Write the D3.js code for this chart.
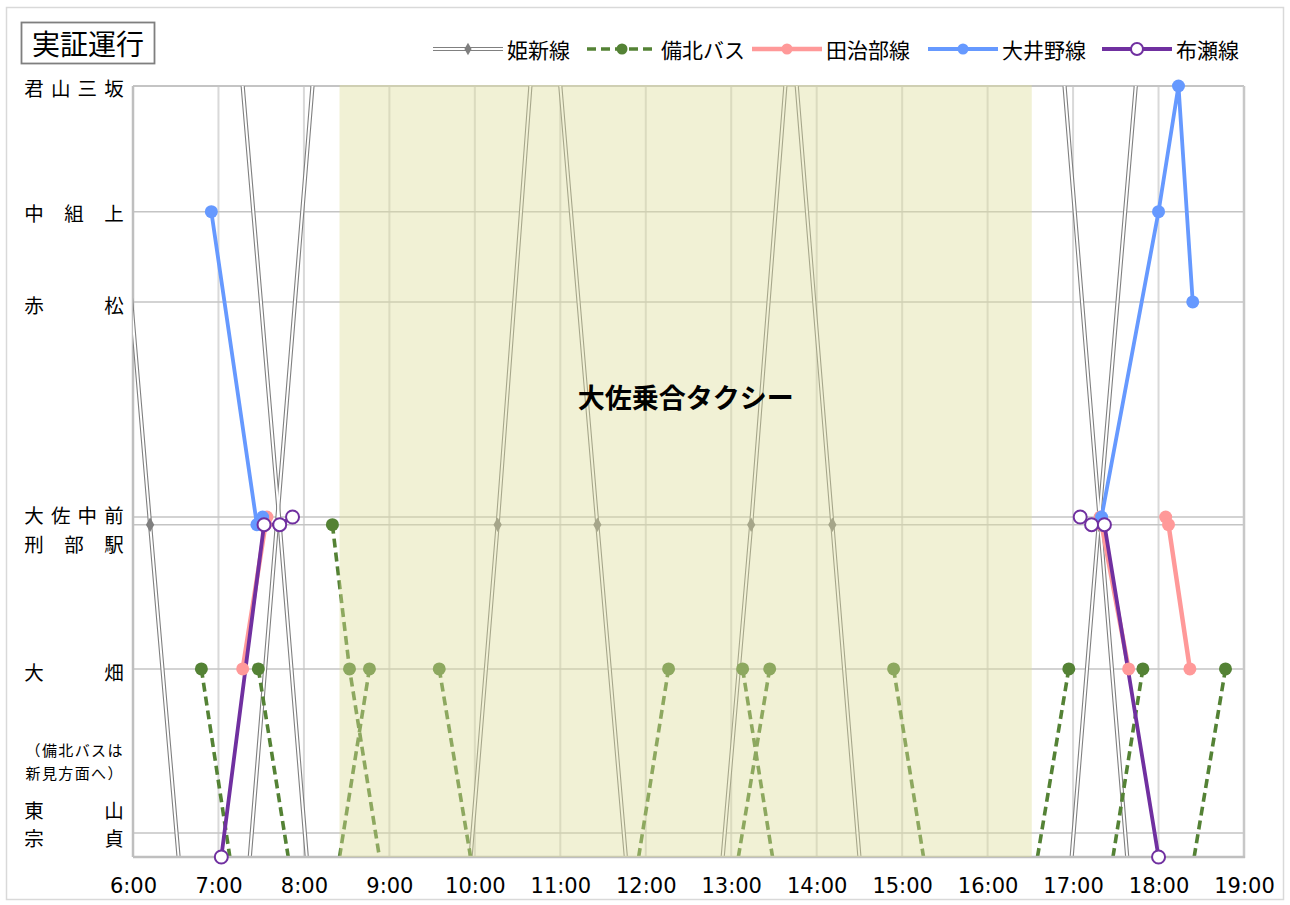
<!DOCTYPE html>
<html>
<head>
<meta charset="utf-8">
<script src="https://cdn.jsdelivr.net/npm/d3@7"></script>
<style>
  body { margin: 0; background: #fff; }
  text { font-family: "Noto Sans CJK JP", "Noto Sans", sans-serif; }
</style>
</head>
<body>
<div id="chart"></div>
<script>
// stations on the y axis (position along the route, arbitrary units)
const stations = ['上端', '君山三坂', '中組上', '赤松', '大佐中前', '刑部駅', '大畑', '東山宗貞', '布瀬', '新見方面', '下端']
const stationPos = [100, 100, 83.7, 72, 44.1, 43.1, 24.4, 3.1, 0, 0, 0]
const gridStations = ['君山三坂', '中組上', '赤松', '大佐中前', '刑部駅', '大畑', '東山宗貞']

// y axis label rows
const yLabelText = ['君山三坂', '中組上', '赤松', '大佐中前', '刑部駅', '大畑', '（備北バスは', '新見方面へ）', '東山', '宗貞']
const yLabelPos = [99.8, 83.6, 71.6, 44.4, 40.6, 24.0, 14.0, 11.0, 6.2, 2.5]
const yLabelSmall = [false, false, false, false, false, false, true, true, false, false]

const xTicks = ['6:00', '7:00', '8:00', '9:00', '10:00', '11:00', '12:00', '13:00', '14:00', '15:00', '16:00', '17:00', '18:00', '19:00']

const taxiPeriod = ['8:25', '16:31']
const taxiLabel = '大佐乗合タクシー'
const title = '実証運行'

// 姫新線 (train crossings of the chart, through 刑部駅)
const himeshin = [
  [['5:46', '上端'], ['6:12', '刑部駅'], ['6:32', '下端']],
  [['7:17', '上端'], ['7:43', '刑部駅'], ['8:02', '下端']],
  [['7:22', '下端'], ['7:41', '刑部駅'], ['8:06', '上端']],
  [['9:57', '下端'], ['10:16', '刑部駅'], ['10:39', '上端']],
  [['11:00', '上端'], ['11:26', '刑部駅'], ['11:46', '下端']],
  [['12:54', '下端'], ['13:14', '刑部駅'], ['13:38', '上端']],
  [['13:46', '上端'], ['14:11', '刑部駅'], ['14:30', '下端']],
  [['16:54', '上端'], ['17:19', '刑部駅'], ['17:38', '下端']],
  [['16:59', '下端'], ['17:18', '刑部駅'], ['17:44', '上端']]
]

// 備北バス
const bihoku = [
  [['6:48', '大畑'], ['7:08', '新見方面']],
  [['7:28', '大畑'], ['7:49', '新見方面']],
  [['8:20', '刑部駅'], ['8:32', '大畑'], ['8:53', '新見方面']],
  [['8:25', '新見方面'], ['8:46', '大畑']],
  [['9:35', '大畑'], ['9:57', '新見方面']],
  [['11:55', '新見方面'], ['12:16', '大畑']],
  [['13:08', '大畑'], ['13:29', '新見方面']],
  [['13:05', '新見方面'], ['13:27', '大畑']],
  [['14:54', '大畑'], ['15:15', '新見方面']],
  [['16:35', '新見方面'], ['16:57', '大畑']],
  [['17:28', '新見方面'], ['17:49', '大畑']],
  [['18:25', '新見方面'], ['18:47', '大畑']]
]

// 田治部線
const tajibu = [
  [['7:17', '大畑'], ['7:33', '刑部駅'], ['7:34', '大佐中前']],
  [['17:19', '大佐中前'], ['17:20', '刑部駅'], ['17:39', '大畑']],
  [['18:05', '大佐中前'], ['18:07', '刑部駅'], ['18:22', '大畑']]
]

// 大井野線
const oino = [
  [['6:55', '中組上'], ['7:27', '刑部駅'], ['7:31', '大佐中前']],
  [['17:20', '大佐中前'], ['18:00', '中組上'], ['18:14', '君山三坂'], ['18:24', '赤松']]
]

// 布瀬線
const fuse = [
  [['7:02', '布瀬'], ['7:32', '刑部駅'], ['7:43', '刑部駅'], ['7:52', '大佐中前']],
  [['17:05', '大佐中前'], ['17:13', '刑部駅'], ['17:22', '刑部駅'], ['18:00', '布瀬']]
]

const width = 1290,
  height = 905,
  plotL = 133, plotR = 1244, plotT = 86, plotB = 857

const parse = d3.timeParse('%H:%M')
const pos = name => stationPos[stations.indexOf(name)]

const x = d3.scaleTime()
  .domain([parse(xTicks[0]), parse(xTicks[xTicks.length - 1])])
  .range([plotL, plotR])
const y = d3.scaleLinear()
  .domain([0, 100])
  .range([plotB, plotT])

const line = d3.line()
  .x(d => x(parse(d[0])))
  .y(d => y(pos(d[1])))

let svg = d3.select('#chart')
  .append('svg')
  .attr('width', width)
  .attr('height', height)

// outer frame
svg.append('rect')
  .attr('x', 6.5).attr('y', 7.5)
  .attr('width', 1277).attr('height', 892)
  .attr('fill', '#fff').attr('stroke', '#d9d9d9').attr('stroke-width', 1.5)

svg.append('clipPath').attr('id', 'plot')
  .append('rect')
  .attr('x', plotL).attr('y', plotT)
  .attr('width', plotR - plotL).attr('height', plotB - plotT + 3)

// grid
svg.append('g').selectAll('line')
  .data(xTicks.slice(1, -1))
  .enter().append('line')
  .attr('x1', d => x(parse(d))).attr('x2', d => x(parse(d)))
  .attr('y1', plotT).attr('y2', plotB)
  .attr('stroke', '#d9d9d9').attr('stroke-width', 2)

svg.append('g').selectAll('line')
  .data(gridStations)
  .enter().append('line')
  .attr('x1', plotL).attr('x2', plotR)
  .attr('y1', d => y(pos(d))).attr('y2', d => y(pos(d)))
  .attr('stroke', '#c4c4c4').attr('stroke-width', d => d === '君山三坂' ? 2 : 1.5)

// plot edges
svg.append('line')
  .attr('x1', plotL).attr('x2', plotL).attr('y1', plotT).attr('y2', plotB)
  .attr('stroke', '#bfbfbf').attr('stroke-width', 2.5)
svg.append('line')
  .attr('x1', plotR).attr('x2', plotR).attr('y1', plotT).attr('y2', plotB + 1)
  .attr('stroke', '#c8c8c8').attr('stroke-width', 2.5)

let plot = svg.append('g').attr('clip-path', 'url(#plot)')

// 姫新線: double line
plot.selectAll('.hs-out')
  .data(himeshin)
  .enter().append('path')
  .attr('d', line)
  .attr('fill', 'none').attr('stroke', '#808080').attr('stroke-width', 4.2)
plot.selectAll('.hs-in')
  .data(himeshin)
  .enter().append('path')
  .attr('d', line)
  .attr('fill', 'none').attr('stroke', '#fff').attr('stroke-width', 2)

svg.append('g').selectAll('path')
  .data(himeshin.map(r => r.find(p => p[1] === '刑部駅')))
  .enter().append('path')
  .attr('transform', d => `translate(${x(parse(d[0]))},${y(pos(d[1]))})`)
  .attr('d', d3.symbol(d3.symbolDiamond, 60))
  .attr('fill', '#7f7f7f')

// bottom axis line
svg.append('line')
  .attr('x1', plotL).attr('x2', plotR + 1).attr('y1', plotB).attr('y2', plotB)
  .attr('stroke', '#bfbfbf').attr('stroke-width', 2.5)

// 備北バス
plot.selectAll('.bh')
  .data(bihoku)
  .enter().append('path')
  .attr('d', line)
  .attr('fill', 'none').attr('stroke', '#548235').attr('stroke-width', 3.6)
  .attr('stroke-dasharray', '9,5')
svg.append('g').selectAll('circle')
  .data(bihoku.flat().filter(p => p[1] !== '新見方面'))
  .enter().append('circle')
  .attr('cx', d => x(parse(d[0]))).attr('cy', d => y(pos(d[1])))
  .attr('r', 6.5).attr('fill', '#548235')

// 田治部線
plot.selectAll('.tj')
  .data(tajibu)
  .enter().append('path')
  .attr('d', line)
  .attr('fill', 'none').attr('stroke', '#ff9999').attr('stroke-width', 4.5)
svg.append('g').selectAll('circle')
  .data(tajibu.flat())
  .enter().append('circle')
  .attr('cx', d => x(parse(d[0]))).attr('cy', d => y(pos(d[1])))
  .attr('r', 6.5).attr('fill', '#ff9999')

// 大井野線
plot.selectAll('.on')
  .data(oino)
  .enter().append('path')
  .attr('d', line)
  .attr('fill', 'none').attr('stroke', '#6699ff').attr('stroke-width', 3.8)
svg.append('g').selectAll('circle')
  .data(oino.flat())
  .enter().append('circle')
  .attr('cx', d => x(parse(d[0]))).attr('cy', d => y(pos(d[1])))
  .attr('r', 6.5).attr('fill', '#6699ff')

// 布瀬線
plot.selectAll('.fs')
  .data(fuse)
  .enter().append('path')
  .attr('d', line)
  .attr('fill', 'none').attr('stroke', '#7030a0').attr('stroke-width', 3.8)
svg.append('g').selectAll('circle')
  .data(fuse.flat())
  .enter().append('circle')
  .attr('cx', d => x(parse(d[0]))).attr('cy', d => y(pos(d[1])))
  .attr('r', 6.5).attr('fill', '#fff').attr('stroke', '#7030a0').attr('stroke-width', 2)

// taxi period shading (on top, translucent)
svg.append('rect')
  .attr('x', x(parse(taxiPeriod[0])))
  .attr('width', x(parse(taxiPeriod[1])) - x(parse(taxiPeriod[0])))
  .attr('y', plotT - 1).attr('height', plotB - plotT + 1)
  .attr('fill', 'rgb(222,222,155)').attr('fill-opacity', 0.42)

svg.append('text')
  .attr('x', (x(parse(taxiPeriod[0])) + x(parse(taxiPeriod[1]))) / 2)
  .attr('y', y(59.7))
  .attr('text-anchor', 'middle').attr('dominant-baseline', 'central')
  .attr('font-size', 27).attr('font-weight', 'bold')
  .text(taxiLabel)

// x axis labels
svg.append('g')
  .attr('transform', `translate(0,${plotB})`)
  .call(d3.axisBottom(x)
    .tickValues(xTicks.map(parse))
    .tickFormat(d3.timeFormat('%-H:%M'))
    .tickSize(0).tickPadding(21))
  .call(g => g.select('.domain').remove())
  .selectAll('text')
  .style('font-family', '"DejaVu Sans", Verdana, sans-serif')
  .style('font-size', '21px').attr('fill', '#000')

// y axis labels (characters spread across the label column)
let yl = svg.append('g')
yLabelText.forEach((t, i) => {
  let chars = Array.from(t)
  let small = yLabelSmall[i]
  let x0 = small ? 33 : 34, x1 = small ? 115 : 114
  yl.selectAll(null)
    .data(chars)
    .enter().append('text')
    .attr('x', (c, j) => chars.length > 1 ? x0 + j * (x1 - x0) / (chars.length - 1) : (x0 + x1) / 2)
    .attr('y', y(yLabelPos[i]))
    .attr('text-anchor', 'middle').attr('dominant-baseline', 'central')
    .attr('font-size', small ? 15 : 19.5)
    .text(c => c)
})

// title box
svg.append('rect')
  .attr('x', 21.5).attr('y', 22.5).attr('width', 133).attr('height', 41)
  .attr('fill', '#fff').attr('stroke', '#7f7f7f').attr('stroke-width', 1.8)
svg.append('text')
  .attr('x', 88).attr('y', 43)
  .attr('text-anchor', 'middle').attr('dominant-baseline', 'central')
  .attr('font-size', 28)
  .text(title)

// legend
const legendY = 49
let lg = svg.append('g')
function legendItem(x0, label, draw) {
  draw(x0, x0 + 70)
  lg.append('text')
    .attr('x', x0 + 74).attr('y', legendY)
    .attr('dominant-baseline', 'central')
    .attr('font-size', 21)
    .text(label)
}
legendItem(433, '姫新線', (a, b) => {
  lg.append('line').attr('x1', a).attr('x2', b).attr('y1', legendY).attr('y2', legendY)
    .attr('stroke', '#808080').attr('stroke-width', 4.2)
  lg.append('line').attr('x1', a).attr('x2', b).attr('y1', legendY).attr('y2', legendY)
    .attr('stroke', '#fff').attr('stroke-width', 2)
  lg.append('path').attr('transform', `translate(${(a + b) / 2},${legendY})`)
    .attr('d', d3.symbol(d3.symbolDiamond, 45)).attr('fill', '#7f7f7f')
})
legendItem(587, '備北バス', (a, b) => {
  lg.append('line').attr('x1', a).attr('x2', b).attr('y1', legendY).attr('y2', legendY)
    .attr('stroke', '#548235').attr('stroke-width', 3.6).attr('stroke-dasharray', '9,5')
  lg.append('circle').attr('cx', (a + b) / 2).attr('cy', legendY).attr('r', 5.5).attr('fill', '#548235')
})
legendItem(752, '田治部線', (a, b) => {
  lg.append('line').attr('x1', a).attr('x2', b).attr('y1', legendY).attr('y2', legendY)
    .attr('stroke', '#ff9999').attr('stroke-width', 4.5)
  lg.append('circle').attr('cx', (a + b) / 2).attr('cy', legendY).attr('r', 5.5).attr('fill', '#ff9999')
})
legendItem(928, '大井野線', (a, b) => {
  lg.append('line').attr('x1', a).attr('x2', b).attr('y1', legendY).attr('y2', legendY)
    .attr('stroke', '#6699ff').attr('stroke-width', 3.8)
  lg.append('circle').attr('cx', (a + b) / 2).attr('cy', legendY).attr('r', 5.5).attr('fill', '#6699ff')
})
legendItem(1102, '布瀬線', (a, b) => {
  lg.append('line').attr('x1', a).attr('x2', b).attr('y1', legendY).attr('y2', legendY)
    .attr('stroke', '#7030a0').attr('stroke-width', 3.8)
  lg.append('circle').attr('cx', (a + b) / 2).attr('cy', legendY).attr('r', 6)
    .attr('fill', '#fff').attr('stroke', '#7030a0').attr('stroke-width', 2)
})
</script>
</body>
</html>
